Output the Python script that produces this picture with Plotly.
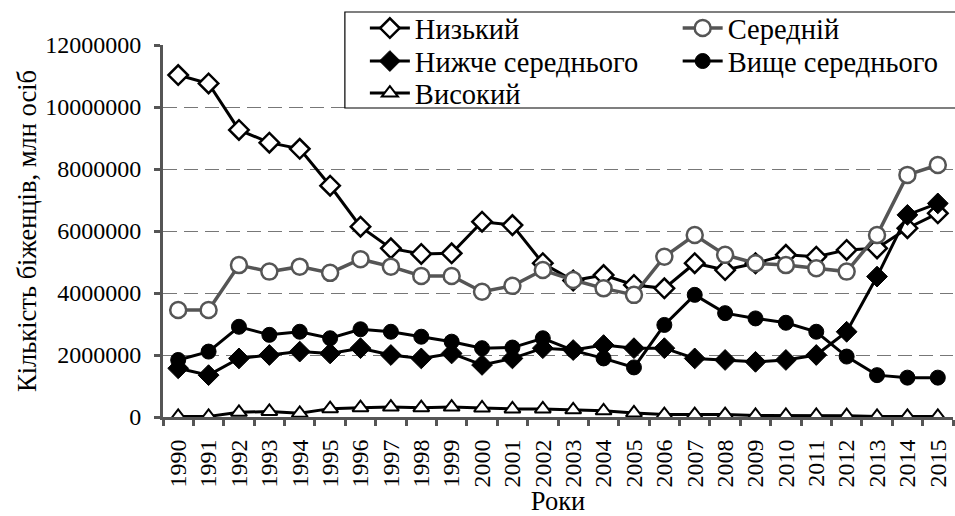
import plotly.graph_objects as go

years = [str(y) for y in range(1990, 2016)]

nyzkyi = [11030000, 10760000, 9260000, 8850000, 8650000, 7460000, 6140000, 5440000,
          5260000, 5280000, 6300000, 6190000, 4960000, 4400000, 4580000, 4260000,
          4150000, 4960000, 4740000, 4960000, 5230000, 5170000, 5390000, 5440000,
          6090000, 6570000]
serednii = [3450000, 3450000, 4900000, 4690000, 4850000, 4650000, 5090000, 4850000,
            4550000, 4550000, 4040000, 4230000, 4740000, 4420000, 4150000, 3940000,
            5170000, 5870000, 5230000, 4960000, 4900000, 4800000, 4690000, 5870000,
            7810000, 8130000]
nyzhche = [1570000, 1350000, 1890000, 2000000, 2110000, 2050000, 2220000, 2000000,
           1890000, 2050000, 1680000, 1890000, 2220000, 2160000, 2320000, 2220000,
           2220000, 1890000, 1840000, 1780000, 1840000, 2000000, 2750000, 4530000,
           6520000, 6890000]
vyshche = [1840000, 2110000, 2910000, 2650000, 2750000, 2540000, 2830000, 2750000,
           2590000, 2430000, 2220000, 2240000, 2540000, 2150000, 1890000, 1600000,
           2970000, 3940000, 3350000, 3180000, 3040000, 2750000, 1950000, 1350000,
           1270000, 1270000]
vysokyi = [20000, 20000, 150000, 180000, 120000, 270000, 300000, 320000,
           300000, 320000, 290000, 260000, 260000, 230000, 200000, 130000,
           80000, 80000, 80000, 50000, 50000, 50000, 40000, 20000,
           20000, 20000]

yticks = [0, 2000000, 4000000, 6000000, 8000000, 10000000, 12000000]
ytick_text = ["0", "2000000", "4000000", "6000000", "8000000", "10000000", "12000000"]

FONT = "Liberation Serif, Times New Roman, serif"
GRAY = "#555555"

fig = go.Figure()
fig.add_trace(go.Scatter(x=years, y=nyzkyi, name="Низький", mode="lines+markers",
                         legend="legend",
                         line=dict(color="black", width=3),
                         marker=dict(symbol="diamond", size=15, color="white",
                                     line=dict(color="black", width=2.5))))
fig.add_trace(go.Scatter(x=years, y=serednii, name="Середній", mode="lines+markers",
                         legend="legend2",
                         line=dict(color=GRAY, width=3.5),
                         marker=dict(symbol="circle", size=16, color="white",
                                     line=dict(color=GRAY, width=2.5))))
fig.add_trace(go.Scatter(x=years, y=nyzhche, name="Нижче середнього", mode="lines+markers",
                         legend="legend3",
                         line=dict(color="black", width=3),
                         marker=dict(symbol="diamond", size=16, color="black",
                                     line=dict(color="black", width=1))))
fig.add_trace(go.Scatter(x=years, y=vyshche, name="Вище середнього", mode="lines+markers",
                         legend="legend4",
                         line=dict(color="black", width=3),
                         marker=dict(symbol="circle", size=15, color="black",
                                     line=dict(color="black", width=1))))
fig.add_trace(go.Scatter(x=years, y=vysokyi, name="Високий", mode="lines+markers",
                         legend="legend5",
                         line=dict(color="black", width=3),
                         marker=dict(symbol="triangle-up", size=14, color="white",
                                     line=dict(color="black", width=2))))

L, R, T, B = 163, 953.5, 45, 417
W, H = R - L, B - T


def px_x(p):
    return (p - L) / W


def px_y(p):
    return (B - p) / H


leg_common = dict(orientation="v", yanchor="top", xanchor="left",
                  bgcolor="rgba(0,0,0,0)", borderwidth=0,
                  font=dict(family=FONT, size=28.5, color="black"),
                  tracegroupgap=0, itemwidth=40)

COL1, COL2 = 365, 678
ROW1_TOP, ROW2_TOP, ROW3_TOP = 3, 36, 68

fig.update_layout(
    width=955, height=516,
    showlegend=True,
    margin=dict(l=L, r=955 - R, t=T, b=516 - B, autoexpand=False),
    paper_bgcolor="white", plot_bgcolor="white",
    font=dict(family=FONT, size=24, color="black"),
    legend=dict(x=px_x(COL1), y=px_y(ROW1_TOP), **leg_common),
    legend2=dict(x=px_x(COL2), y=px_y(ROW1_TOP), **leg_common),
    legend3=dict(x=px_x(COL1), y=px_y(ROW2_TOP), **leg_common),
    legend4=dict(x=px_x(COL2), y=px_y(ROW2_TOP), **leg_common),
    legend5=dict(x=px_x(COL1), y=px_y(ROW3_TOP), **leg_common),
    shapes=[dict(type="rect", xref="paper", yref="paper", layer="above",
                 x0=px_x(345), x1=px_x(975), y0=px_y(108), y1=px_y(12),
                 fillcolor="white", line=dict(color="black", width=1.2))],
    xaxis=dict(type="category", showgrid=False, showline=True, linecolor=GRAY, linewidth=3,
               ticks="outside", tickson="boundaries", ticklen=6, tickwidth=2.5, tickcolor=GRAY,
               tickangle=-90, tickfont=dict(family=FONT, size=24), ticklabelstandoff=10,
               title=dict(text="Роки", font=dict(family=FONT, size=26.5), standoff=18),
               range=[-0.5, 25.5], zeroline=False),
    yaxis=dict(range=[0, 12000000], tickvals=yticks, ticktext=ytick_text,
               showline=True, linecolor=GRAY, linewidth=3, ticks="outside", ticklen=6,
               tickwidth=2.5, tickcolor=GRAY, showgrid=True, gridcolor="#777777",
               griddash="14px,7px", gridwidth=1.2, zeroline=False,
               tickfont=dict(family=FONT, size=24), ticklabelstandoff=8,
               title=dict(text="Кількість біженців, млн осіб",
                          font=dict(family=FONT, size=26.5), standoff=1)),
)

fig.write_html("out.html", config={"displayModeBar": False},
               post_script="document.body.style.margin='0';")
